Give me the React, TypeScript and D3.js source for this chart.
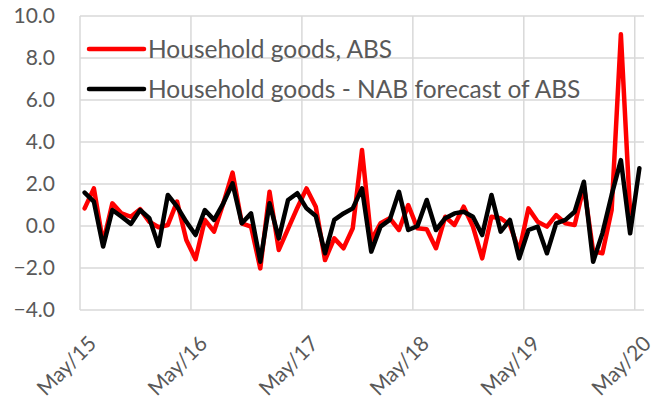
import React from "react";
import * as d3 from "d3";

const months: Date[] = d3.timeMonth.range(new Date(2015, 4, 1), new Date(2020, 5, 1));
const fmt = d3.timeFormat("%b/%y");

const absValues: number[] = [
  0.84, 1.79, -0.8, 1.08, 0.6, 0.44, 0.8, 0.2, -0.06, 0.05, 1.16, -0.67,
  -1.58, 0.29, -0.27, 1.08, 2.54, 0.13, -0.03, -2.02, 1.63, -1.14, -0.14, 0.86,
  1.79, 0.92, -1.62, -0.59, -1.06, -0.11, 3.62, -0.67, 0.13, 0.37, -0.19, 1.0,
  -0.11, -0.16, -1.06, 0.44, 0.05, 0.92, -0.03, -1.54, 0.44, 0.37, 0.05, -1.2,
  0.84, 0.2, -0.03, 0.52, 0.13, 0.05, 1.9, -1.2, -1.3, 0.76, 9.13, 0.6,
];

const nabValues: number[] = [
  1.59, 1.16, -0.98, 0.76, 0.44, 0.1, 0.76, 0.37, -0.95, 1.48, 0.92, 0.2,
  -0.43, 0.76, 0.29, 1.08, 2.03, 0.13, 0.6, -1.7, 1.08, -0.59, 1.24, 1.56,
  0.84, 0.48, -1.3, 0.29, 0.6, 0.84, 1.79, -1.22, -0.03, 0.29, 1.63, -0.19,
  0.0, 1.24, -0.19, 0.37, 0.6, 0.68, 0.44, -0.43, 1.48, -0.27, 0.29, -1.54,
  -0.19, -0.03, -1.3, 0.13, 0.29, 0.68, 2.11, -1.7, -0.35, 1.48, 3.14, -0.35,
  2.75,
];

const yTicks: number[] = [-4, -2, 0, 2, 4, 6, 8, 10];
const seriesNames: string[] = ["Household goods, ABS", "Household goods - NAB forecast of ABS"];
const seriesColors: string[] = ["#ff0000", "#000000"];

const FONT = "Lato, 'Open Sans', sans-serif";
const TEXT = "#595959";
const GRID = "#d9d9d9";

export default function App() {
  const W = 657, H = 410;
  const left = 80, right = 644, top = 16, bottom = 310;
  const x = d3.scaleBand<number>().domain(months.map((_, i) => i)).range([left, right]).padding(0);
  const y = d3.scaleLinear().domain([-4, 10]).range([bottom, top]);
  const cx = (i: number) => (x(i) as number) + x.bandwidth() / 2;
  const line = d3.line<number>().x((_, i) => cx(i)).y((v) => y(v));
  const labelIdx = months.map((_, i) => i).filter((i) => i % 12 === 0);

  return (
    <svg width={W} height={H} style={{ position: "absolute", left: 0, top: 0, background: "#fff" }}>
      {yTicks.map((t) => (
        <line key={"g" + t} x1={left} x2={right} y1={y(t)} y2={y(t)} stroke={GRID} strokeWidth={1.5} />
      ))}
      {labelIdx.map((i) => (
        <line key={"v" + i} x1={x(i) as number} x2={x(i) as number} y1={top} y2={bottom} stroke={GRID} strokeWidth={1.5} />
      ))}
      {yTicks.map((t) => (
        <text key={"t" + t} x={55} y={y(t)} dy="0.35em" textAnchor="end" fontFamily={FONT} fontSize={21} fill={TEXT}>
          {d3.format(".1f")(t)}
        </text>
      ))}
      {labelIdx.map((i) => (
        <text
          key={"x" + i}
          transform={`translate(${cx(i) + 13},${bottom + 35}) rotate(-45)`}
          textAnchor="end"
          fontFamily={FONT}
          fontSize={21}
          fill={TEXT}
        >
          {fmt(months[i])}
        </text>
      ))}
      <path d={line(absValues) || ""} fill="none" stroke={seriesColors[0]} strokeWidth={4.5} strokeLinejoin="round" strokeLinecap="round" />
      <path d={line(nabValues) || ""} fill="none" stroke={seriesColors[1]} strokeWidth={4.5} strokeLinejoin="round" strokeLinecap="round" />
      {seriesNames.map((name, k) => (
        <g key={name}>
          <line x1={89} x2={144} y1={49 + k * 40} y2={49 + k * 40} stroke={seriesColors[k]} strokeWidth={4.5} strokeLinecap="round" />
          <text x={148} y={49 + k * 40} dy="0.35em" fontFamily={FONT} fontSize={24.5} fill={TEXT}>
            {name}
          </text>
        </g>
      ))}
    </svg>
  );
}
